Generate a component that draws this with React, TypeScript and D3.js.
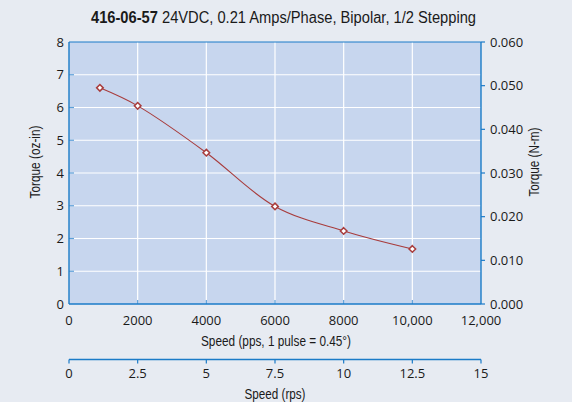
import React from "react";
import * as d3 from "d3";

// values
const speedPps = [900, 2000, 4000, 6000, 8000, 10000];
const torqueOzIn = [6.6, 6.05, 4.62, 2.98, 2.23, 1.68];

const ppsTicks = [0, 2000, 4000, 6000, 8000, 10000, 12000];
const ppsTickLabels = ["0", "2000", "4000", "6000", "8000", "10,000", "12,000"];
const ozTicks = [0, 1, 2, 3, 4, 5, 6, 7, 8];
const nmTicks = [0, 0.01, 0.02, 0.03, 0.04, 0.05, 0.06];
const rpsTicks = [0, 2.5, 5, 7.5, 10, 12.5, 15];

const W = 572;
const H = 402;
const margin = {left: 69, right: 91, top: 42, bottom: 98};

const PAGE_BG = "#e7ebf2";
const PLOT_BG = "#c7d6ee";
const AXIS = "#1b7bc8";
const TICK = "#5d9fd8";
const LINE = "#a83c3c";
const TEXT = "#1a1a1a";
const tickFont = "'Open Sans', sans-serif";
const labelFont = "'Liberation Sans', Arial, sans-serif";

export default function App() {
    const x0 = margin.left;
    const x1 = W - margin.right;
    const y0 = H - margin.bottom;
    const y1 = margin.top;

    const x = d3.scaleLinear().domain([0, 12000]).range([x0, x1]);
    const y = d3.scaleLinear().domain([0, 8]).range([y0, y1]);
    const yNm = d3.scaleLinear().domain([0, 0.06]).range([y0, y1]);
    const xRps = d3.scaleLinear().domain([0, 15]).range([x0, x1]);

    const pts: [number, number][] = speedPps.map((s, i) => [s, torqueOzIn[i]]);
    const line = d3.line<[number, number]>()
        .x(d => x(d[0]))
        .y(d => y(d[1]))
        .curve(d3.curveCatmullRom.alpha(0.5));

    const rpsY = 359.5;
    const diamond = (cx: number, cy: number) => {
        const r = 3.3;
        return `M${cx},${cy - r}L${cx + r},${cy}L${cx},${cy + r}L${cx - r},${cy}Z`;
    };

    return (
        <svg width={W} height={H} style={{position: "absolute", left: 0, top: 0, background: PAGE_BG}}>
            <rect width={W} height={H} fill={PAGE_BG} />

            {/* title */}
            <text x={91} y={23} fontFamily={labelFont} fontSize={16} fill={TEXT}
                textLength={385} lengthAdjust="spacingAndGlyphs">
                <tspan fontWeight="bold">416-06-57</tspan>
                <tspan> 24VDC, 0.21 Amps/Phase, Bipolar, 1/2 Stepping</tspan>
            </text>

            {/* plot area */}
            <rect x={x0} y={y1} width={x1 - x0} height={y0 - y1} fill={PLOT_BG} />
            {ppsTicks.slice(1, -1).map(t => (
                <line key={"gx" + t} x1={x(t)} x2={x(t)} y1={y1} y2={y0} stroke="#fff" strokeWidth={1.2} />
            ))}
            {ozTicks.slice(1, -1).map(t => (
                <line key={"gy" + t} x1={x0} x2={x1} y1={y(t)} y2={y(t)} stroke="#fff" strokeWidth={1.2} />
            ))}

            {/* inner ticks */}
            {ozTicks.slice(1, -1).map(t => (
                <line key={"ly" + t} x1={x0} x2={x0 + 5} y1={y(t)} y2={y(t)} stroke={TICK} strokeWidth={1.2} />
            ))}
            {ppsTicks.slice(1, -1).map(t => (
                <line key={"bx" + t} x1={x(t)} x2={x(t)} y1={y0} y2={y0 - 4} stroke={TICK} strokeWidth={1.2} />
            ))}

            {/* axes lines */}
            <line x1={x0} x2={x0} y1={y1} y2={y0} stroke={AXIS} strokeWidth={1.4} />
            <line x1={x1} x2={x1} y1={y1} y2={y0} stroke={AXIS} strokeWidth={1.4} />
            <line x1={x0} x2={x1} y1={y0} y2={y0} stroke={AXIS} strokeWidth={1.4} />
            <line x1={x0} x2={x1} y1={y1} y2={y1} stroke={AXIS} strokeWidth={1} />
            {nmTicks.map(t => (
                <line key={"ry" + t} x1={x1} x2={x1 + 4} y1={yNm(t)} y2={yNm(t)} stroke={AXIS} strokeWidth={1.2} />
            ))}

            {/* left tick labels */}
            {ozTicks.map(t => (
                <text key={"lt" + t} x={64} y={y(t)} dy="0.35em" textAnchor="end"
                    fontFamily={tickFont} fontSize={13} fill={TEXT}>{t}</text>
            ))}
            {/* right tick labels */}
            {nmTicks.map(t => (
                <text key={"rt" + t} x={490} y={yNm(t)} dy="0.35em" textAnchor="start"
                    fontFamily={tickFont} fontSize={13} fill={TEXT}>{d3.format(".3f")(t)}</text>
            ))}
            {/* bottom tick labels */}
            {ppsTicks.map((t, i) => (
                <text key={"bt" + t} x={x(t)} y={320} dy="0.35em" textAnchor="middle"
                    fontFamily={tickFont} fontSize={13} fill={TEXT}>{ppsTickLabels[i]}</text>
            ))}

            {/* axis titles */}
            <text x={276} y={341} dy="0.35em" textAnchor="middle" fontFamily={labelFont}
                fontSize={14} fill={TEXT} textLength={150} lengthAdjust="spacingAndGlyphs">
                Speed (pps, 1 pulse = 0.45°)
            </text>
            <text transform="translate(35,162) rotate(-90)" textAnchor="middle" dy="0.35em"
                fontFamily={labelFont} fontSize={14} fill={TEXT} textLength={73} lengthAdjust="spacingAndGlyphs">
                Torque (oz-in)
            </text>
            <text transform="translate(534,162) rotate(-90)" textAnchor="middle" dy="0.35em"
                fontFamily={labelFont} fontSize={14} fill={TEXT} textLength={69} lengthAdjust="spacingAndGlyphs">
                Torque (N-m)
            </text>

            {/* rps axis */}
            <line x1={x0} x2={x1} y1={rpsY} y2={rpsY} stroke={AXIS} strokeWidth={1.4} />
            {rpsTicks.map(t => (
                <line key={"rp" + t} x1={xRps(t)} x2={xRps(t)} y1={rpsY} y2={rpsY + 4} stroke={AXIS} strokeWidth={1.2} />
            ))}
            {rpsTicks.map(t => (
                <text key={"rl" + t} x={xRps(t)} y={373} dy="0.35em" textAnchor="middle"
                    fontFamily={tickFont} fontSize={13} fill={TEXT}>{t}</text>
            ))}
            <text x={(x0 + x1) / 2} y={394} dy="0.35em" textAnchor="middle" fontFamily={labelFont}
                fontSize={14} fill={TEXT} textLength={61} lengthAdjust="spacingAndGlyphs">
                Speed (rps)
            </text>

            {/* data */}
            <path d={line(pts) ?? ""} fill="none" stroke={LINE} strokeWidth={1.1} />
            {pts.map((d, i) => (
                <path key={"pt" + i} d={diamond(x(d[0]), y(d[1]))} fill="#fff" stroke={LINE} strokeWidth={1.5} />
            ))}
        </svg>
    );
}
